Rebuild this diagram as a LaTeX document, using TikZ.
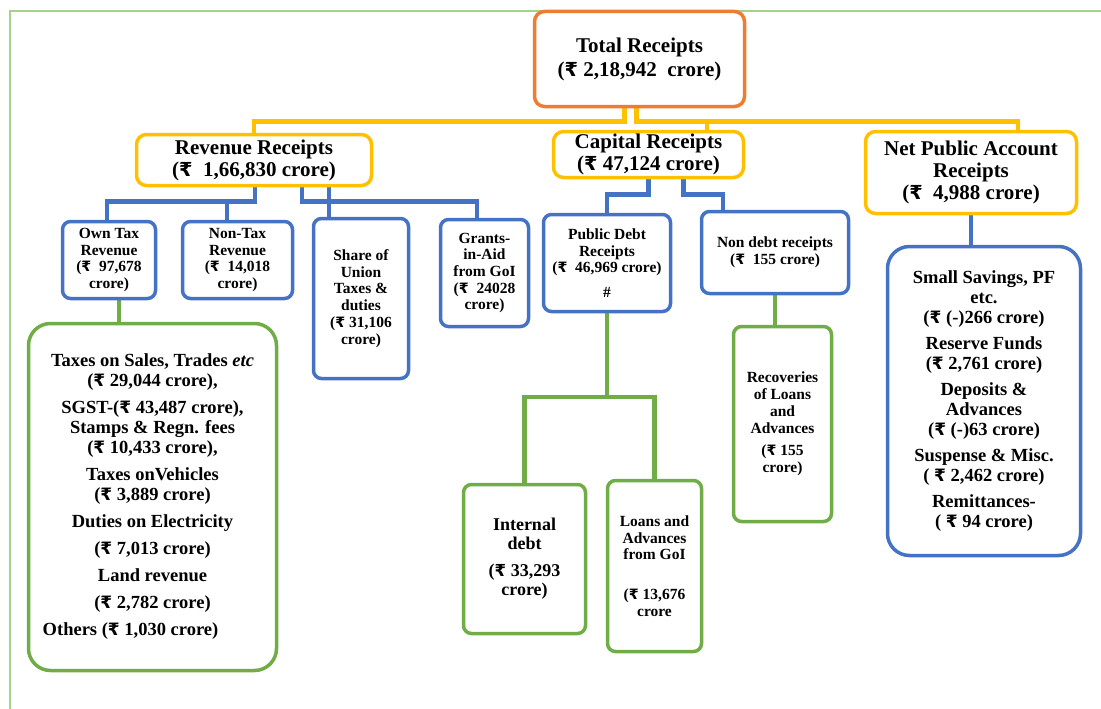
\documentclass[tikz,border=0pt]{standalone}
\usepackage{fontspec}
\setmainfont{Liberation Serif}
\newfontfamily\rsfont[Scale=0.92]{DejaVu Sans}
\newcommand\rsign{{\rsfont ₹}}
\usetikzlibrary{backgrounds}
\definecolor{tangerine}{RGB}{237,125,49}
\definecolor{gold}{RGB}{255,192,0}
\definecolor{steel}{RGB}{68,114,196}
\definecolor{leaf}{RGB}{112,173,71}
\definecolor{sage}{RGB}{169,209,142}
\tikzset{
  box/.style={draw=#1,fill=white,line width=3.5pt,rounded corners=8pt,
    align=center,inner sep=2pt},
  box/.default=steel,
  headbox/.style={box=#1,rounded corners=10pt,font=\fontsize{21}{22}\selectfont\bfseries},
  headbox/.default=gold,
  smallbox/.style={box=#1,font=\fontsize{15.5}{16.7}\selectfont\bfseries},
  smallbox/.default=steel,
  bigbox/.style={box=#1,rounded corners=22pt,font=\fontsize{18.5}{20}\selectfont\bfseries},
  bigbox/.default=leaf,
  link/.style={draw=#1,line width=4.5pt},
  link/.default=steel,
  frameline/.style={draw=sage,line width=1.5pt},
}

\begin{document}
\begin{tikzpicture}[x=1pt,y=-1pt]
        \useasboundingbox (0,0) rectangle (1101,709);
        % top level
        \node[headbox=tangerine,minimum width=210pt,minimum height=95pt,
          font=\fontsize{21}{24}\selectfont\bfseries] (tot) at (639.5,59) {Total Receipts\\(\rsign{} 2,18,942~~crore)};
        \node[headbox,minimum width=235pt,minimum height=51pt] (rev) at (254,160) {Revenue Receipts\\(\rsign{}~~1,66,830 crore)};
        \node[headbox,minimum width=190pt,minimum height=46pt] (cap) at (648.5,154.5) {Capital Receipts\\(\rsign{} 47,124 crore)};
        \node[headbox,minimum width=211pt,minimum height=82pt] (npa) at (971,172.5) {Net Public Account\\Receipts\\(\rsign{}~~4,988 crore)};
        % second level
        \node[smallbox,minimum width=93pt,minimum height=77pt] (own) at (109,260) {Own Tax\\Revenue\\(\rsign{}~~97,678\\crore)};
        \node[smallbox,minimum width=110pt,minimum height=77pt] (non) at (237.5,260) {Non-Tax\\Revenue\\(\rsign{}~~14,018\\crore)};
        \node[smallbox,minimum width=95pt,minimum height=160pt] (share) at (361,298.5) {Share of\\Union\\Taxes \&\\duties\\(\rsign{} 31,106\\crore)};
        \node[smallbox,minimum width=88pt,minimum height=107pt] (grant) at (484.5,273) {Grants-\\in-Aid\\from GoI\\(\rsign{}~~24028\\crore)};
        \node[smallbox,minimum width=127pt,minimum height=97pt] (pdr) at (607,263) {Public Debt\\Receipts\\(\rsign{}~~46,969 crore)\\[8pt]\#};
        \node[smallbox,minimum width=147pt,minimum height=82pt] (ndr) at (775,252.5) {Non debt receipts\\(\rsign{}~~155 crore)};
        \node[bigbox=steel,minimum width=193pt,minimum height=309pt] (sav) at (984,401)
          {Small Savings, PF\\etc.\\(\rsign{} (-)266 crore)\\[6pt]Reserve Funds\\(\rsign{} 2,761 crore)\\[6pt]Deposits \&\\Advances\\(\rsign{} (-)63 crore)\\[6pt]Suspense \& Misc.\\( \rsign{} 2,462 crore)\\[6pt]Remittances-\\( \rsign{} 94 crore)};
        % third level
        \node[bigbox,minimum width=248pt,minimum height=347pt] (tax) at (152.5,497)
          {Taxes on Sales, Trades \textit{etc}\\(\rsign{} 29,044 crore),\\[7pt]SGST-(\rsign{} 43,487 crore),\\Stamps \& Regn. fees\\(\rsign{} 10,433 crore),\\[7pt]Taxes onVehicles\\(\rsign{} 3,889 crore)\\[7pt]Duties on Electricity\\[7pt](\rsign{} 7,013 crore)\\[7pt]Land revenue\\[7pt](\rsign{} 2,782 crore)\\[7pt]Others (\rsign{} 1,030 crore)\hspace*{44pt}};
        \node[smallbox=leaf,minimum width=98pt,minimum height=195pt] (rec) at (782.5,424) {Recoveries\\of Loans\\and\\Advances\\[6pt](\rsign{} 155\\crore)};
        \node[smallbox=leaf,font=\fontsize{18}{19}\selectfont\bfseries,minimum width=122pt,minimum height=149pt] (int) at (524.5,559) {Internal\\debt\\[8pt](\rsign{} 33,293\\crore)};
        \node[smallbox=leaf,minimum width=94pt,minimum height=171pt] (loan) at (654.5,566) {Loans and\\Advances\\from GoI\\[23pt](\rsign{} 13,676\\crore};
        \coordinate (pj) at (607,397);
        \begin{scope}[on background layer]
          \draw[frameline] (10,709) -- (10,11) -- (1101,11);
          \draw[link=gold] ([xshift=-15pt]tot.south) -- ++(0,13) -| (rev.north);
          \draw[link=gold] ([xshift=-3pt]tot.south) -- ++(0,13) -| ([xshift=58.5pt]cap.north);
          \draw[link=gold] ([xshift=-3pt]tot.south) -- ++(0,13) -| ([xshift=47pt]npa.north);
          \draw[link] ([xshift=1pt]rev.south) -- ++(0,14) -| ([xshift=-2pt]own.north);
          \draw[link] ([xshift=1pt]rev.south) -- ++(0,14) -| ([xshift=-10.5pt]non.north);
          \draw[link] ([xshift=75pt]rev.south) -- ([xshift=75pt]rev.south |- share.north);
          \draw[link] ([xshift=48pt]rev.south) -- ++(0,14) -| ([xshift=-7.5pt]grant.north);
          \draw[link] (cap.south) -- ++(0,15) -| (pdr.north);
          \draw[link] ([xshift=35pt]cap.south) -- ++(0,15) -| ([xshift=-52pt]ndr.north);
          \draw[link] (npa.south) -- (npa.south |- sav.north);
          \draw[link=leaf] ([xshift=10pt]own.south) -- ([xshift=10pt]own.south |- tax.north);
          \draw[link=leaf] (pdr.south) -- (pj) -| (int.north);
          \draw[link=leaf] (pj) -| (loan.north);
          \draw[link=leaf] (ndr.south) -- (ndr.south |- rec.north);
        \end{scope}
\end{tikzpicture}
\end{document}
